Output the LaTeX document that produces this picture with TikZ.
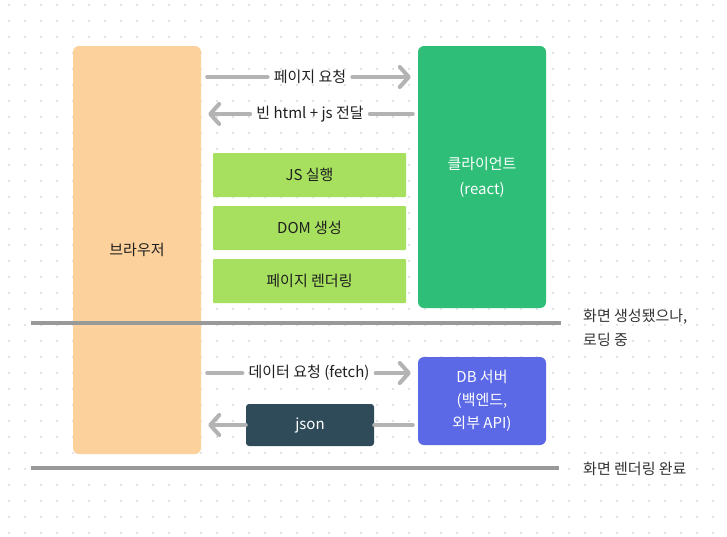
\documentclass[tikz,border=0pt]{standalone}
\usepackage{fontspec}
\setmainfont{Noto Sans CJK KR}
\usetikzlibrary{arrows.meta}
\definecolor{peach}{HTML}{FCD19C}
\definecolor{cgreen}{HTML}{2EBE78}
\definecolor{lgreen}{HTML}{A6E05E}
\definecolor{dbblue}{HTML}{5B69E6}
\definecolor{slate}{HTML}{2F4B5A}
\definecolor{arrc}{HTML}{B3B3B3}
\definecolor{sepc}{HTML}{999999}
\definecolor{dotc}{HTML}{E3E3E3}
\definecolor{txt}{HTML}{1F1F1F}
\definecolor{side}{HTML}{333333}
\begin{document}
\begin{tikzpicture}[x=1pt,y=-1pt,
  box/.style={rounded corners=6pt, inner sep=0pt, align=center, text=txt,
    font=\fontsize{15}{24}\selectfont},
  lab/.style={inner sep=6pt, text=txt, font=\fontsize{15}{18}\selectfont},
  ln/.style={draw=arrc, line width=4pt, line cap=round},
  arr/.style={ln, -{Straight Barb[length=9pt,width=20pt,round]}},
  sepline/.style={draw=sepc, line width=3.5pt},
  sidetxt/.style={anchor=west, inner sep=0pt, align=left, text=side,
    font=\fontsize{15}{24}\selectfont}]
\useasboundingbox (0,0) rectangle (727,536);
\fill[white] (0,0) rectangle (727,536);
\foreach \x in {9,25,...,727} {
  \foreach \y in {5,21,...,536} {
    \fill[dotc] (\x-1,\y-1) rectangle ++(2,2);
  }
}
% main boxes
\node[box, fill=peach, minimum width=128pt, minimum height=408pt] (browser) at (137,250) {브라우저};
\node[box, fill=cgreen, text=white, font=\fontsize{15}{25}\selectfont, minimum width=128pt, minimum height=262pt] (client) at (482,177) {클라이언트\\(react)};
\node[box, fill=lgreen, rounded corners=1pt, minimum width=193pt, minimum height=44pt] (js) at (309.5,175) {JS 실행};
\node[box, fill=lgreen, rounded corners=1pt, minimum width=193pt, minimum height=44pt] (dom) at (309.5,228) {DOM 생성};
\node[box, fill=lgreen, rounded corners=1pt, minimum width=193pt, minimum height=44pt] (render) at (309.5,281) {페이지 렌더링};
\node[box, fill=dbblue, text=white, font=\fontsize{15}{23}\selectfont, minimum width=128pt, minimum height=88pt] (db) at (482,401) {DB 서버\\(백엔드,\\외부 API)};
% separators
\coordinate (s1a) at (31,323); \coordinate (s1b) at (561,323);
\coordinate (s2a) at (31,468); \coordinate (s2b) at (559,468);
\draw[sepline] (s1a) -- (s1b);
\draw[sepline] (s2a) -- (s2b);
\node[sidetxt] (t1) at (583,328) {화면 생성됐으나,\\로딩 중};
\node[sidetxt] (t2) at (583,469) {화면 렌더링 완료};
% arrows
\node[lab] (l1) at (310,77) {페이지 요청};
\draw[ln] ([xshift=6pt]browser.east |- l1) -- (l1.west);
\draw[arr] (l1.east) -- ([xshift=-7pt]client.west |- l1);
\node[lab] (l2) at (310,114) {빈 html + js 전달};
\draw[ln] ([xshift=-5pt]client.west |- l2) -- (l2.east);
\draw[arr] (l2.west) -- ([xshift=7pt]browser.east |- l2);
\node[lab] (l3) at (309,373) {데이터 요청 (fetch)};
\draw[ln] ([xshift=6pt]browser.east |- l3) -- (l3.west);
\draw[arr] (l3.east) -- ([xshift=-7pt]db.west |- l3);
\node[box, fill=slate, text=white, rounded corners=3pt, minimum width=128pt, minimum height=42pt] (json) at (310,425) {json};
\draw[ln] ([xshift=-5pt]db.west |- json) -- (json.east);
\draw[arr] (json.west) -- ([xshift=7pt]browser.east |- json);
\end{tikzpicture}
\end{document}
